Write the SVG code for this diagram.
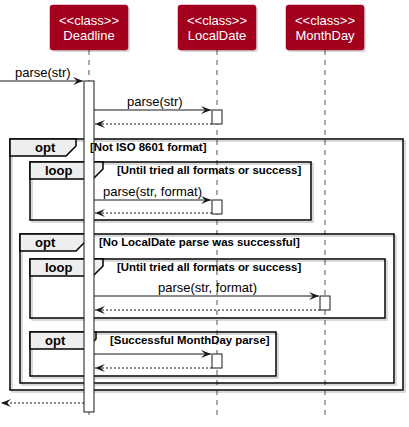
<svg xmlns="http://www.w3.org/2000/svg" width="409" height="427" viewBox="0 0 409 427">
<defs>
<style>
.life{stroke:#555555;stroke-width:1;stroke-dasharray:5,5;fill:none}
.pbox{fill:#A2001D;stroke:#A2001D;stroke-width:0.5}
.pshadow{fill:#000000;opacity:0.15}
.ptxt{font-family:"Liberation Sans",Arial,sans-serif;font-size:13px;fill:#FFFFFF;text-anchor:middle}
.act{fill:#FFFFFF;stroke:#181818;stroke-width:1}
.msg{stroke:#181818;stroke-width:1;fill:none}
.ret{stroke:#181818;stroke-width:1;fill:none;stroke-dasharray:2,2}
.mtxt{font-family:"Liberation Sans",Arial,sans-serif;font-size:13px;fill:#000000}
.frame{fill:none;stroke:#000000;stroke-width:1.5}
.fshadow{fill:none;stroke:#000000;stroke-opacity:0.2;stroke-width:1.5}
.tab{fill:#EEEEEE;stroke:#000000;stroke-width:1.5}
.ftxt{font-family:"Liberation Sans",Arial,sans-serif;font-size:13px;font-weight:bold;fill:#000000}
.ctxt{font-family:"Liberation Sans",Arial,sans-serif;font-size:11.4px;font-weight:bold;fill:#000000}
</style>
<marker id="ah" viewBox="0 0 10 8" refX="10" refY="4" markerWidth="10" markerHeight="8" markerUnits="userSpaceOnUse" orient="auto">
<polygon points="0,0 10,4 0,8 4,4" fill="#181818"/>
</marker>
</defs>
<rect width="409" height="427" fill="#FFFFFF"/>

<g id="lifelines">
<line class="life" x1="89" y1="50" x2="89" y2="418"/>
<line class="life" x1="217" y1="50" x2="217" y2="418"/>
<line class="life" x1="325" y1="50" x2="325" y2="418"/>
</g>

<g id="Deadline">
<rect class="pshadow" x="52" y="7" width="78" height="45" rx="2.5"/>
<rect class="pbox" x="50" y="5" width="78" height="45" rx="2.5"/>
<text class="ptxt" x="89" y="25">&lt;&lt;class&gt;&gt;</text>
<text class="ptxt" x="89" y="40">Deadline</text>
</g>
<g id="LocalDate">
<rect class="pshadow" x="180" y="7" width="78" height="45" rx="2.5"/>
<rect class="pbox" x="178" y="5" width="78" height="45" rx="2.5"/>
<text class="ptxt" x="217" y="25">&lt;&lt;class&gt;&gt;</text>
<text class="ptxt" x="217" y="40">LocalDate</text>
</g>
<g id="MonthDay">
<rect class="pshadow" x="288" y="7" width="78" height="45" rx="2.5"/>
<rect class="pbox" x="286" y="5" width="78" height="45" rx="2.5"/>
<text class="ptxt" x="325" y="25">&lt;&lt;class&gt;&gt;</text>
<text class="ptxt" x="325" y="40">MonthDay</text>
</g>

<g id="frames">
<rect class="fshadow" x="12" y="141" width="393" height="251"/>
<rect class="frame" x="10" y="139" width="393" height="251"/>
<polygon class="tab" points="10,139 76,139 76,146 66,156 10,156"/>
<rect class="fshadow" x="32" y="164" width="281" height="58"/>
<rect class="frame" x="30" y="162" width="281" height="58"/>
<polygon class="tab" points="30,162 103,162 103,169 93,179 30,179"/>
<rect class="fshadow" x="22" y="236" width="374" height="149"/>
<rect class="frame" x="20" y="234" width="374" height="149"/>
<polygon class="tab" points="20,234 86,234 86,241 76,251 20,251"/>
<rect class="fshadow" x="32" y="261" width="355" height="59"/>
<rect class="frame" x="30" y="259" width="355" height="59"/>
<polygon class="tab" points="30,259 103,259 103,266 93,276 30,276"/>
<rect class="fshadow" x="32" y="334" width="246" height="44"/>
<rect class="frame" x="30" y="332" width="246" height="44"/>
<polygon class="tab" points="30,332 96,332 96,339 86,349 30,349"/>
</g>

<g id="activations">
<rect class="act" x="84" y="81" width="10" height="331"/>
<rect class="act" x="212" y="110" width="10" height="14"/>
<rect class="act" x="212" y="200" width="10" height="14"/>
<rect class="act" x="320" y="296" width="10" height="14"/>
<rect class="act" x="212" y="354" width="10" height="14"/>
</g>

<g id="frame-labels">
<text class="ftxt" x="35" y="152">opt</text>
<text class="ctxt" x="90" y="151">[Not ISO 8601 format]</text>
<text class="ftxt" x="45" y="175">loop</text>
<text class="ctxt" x="117" y="174">[Until tried all formats or success]</text>
<text class="ftxt" x="35" y="247">opt</text>
<text class="ctxt" x="99" y="246">[No LocalDate parse was successful]</text>
<text class="ftxt" x="45" y="272">loop</text>
<text class="ctxt" x="117" y="271">[Until tried all formats or success]</text>
<text class="ftxt" x="45" y="345">opt</text>
<text class="ctxt" x="110" y="344">[Successful MonthDay parse]</text>
</g>

<g id="connectors">
<line class="msg" x1="0" y1="81" x2="83" y2="81" marker-end="url(#ah)"/>
<text class="mtxt" x="15" y="77">parse(str)</text>
<line class="msg" x1="94" y1="110" x2="211" y2="110" marker-end="url(#ah)"/>
<text class="mtxt" x="127" y="106">parse(str)</text>
<line class="ret" x1="212" y1="124" x2="95" y2="124" marker-end="url(#ah)"/>
<line class="msg" x1="94" y1="200" x2="211" y2="200" marker-end="url(#ah)"/>
<text class="mtxt" x="103" y="196">parse(str, format)</text>
<line class="ret" x1="212" y1="213" x2="95" y2="213" marker-end="url(#ah)"/>
<line class="msg" x1="94" y1="296" x2="319" y2="296" marker-end="url(#ah)"/>
<text class="mtxt" x="158" y="292">parse(str, format)</text>
<line class="ret" x1="320" y1="310" x2="95" y2="310" marker-end="url(#ah)"/>
<line class="msg" x1="94" y1="354" x2="211" y2="354" marker-end="url(#ah)"/>
<line class="ret" x1="212" y1="368" x2="95" y2="368" marker-end="url(#ah)"/>
<line class="ret" x1="84" y1="403" x2="1" y2="403" marker-end="url(#ah)"/>
</g>
</svg>
